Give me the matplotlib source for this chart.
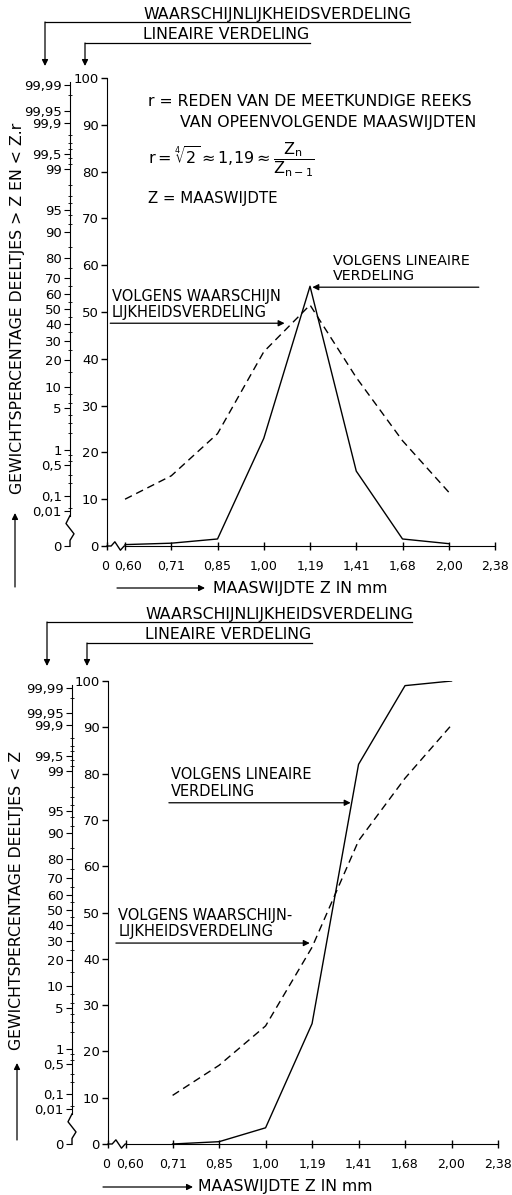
import matplotlib
matplotlib.use("Agg")
import matplotlib.pyplot as plt
import matplotlib.transforms as mtransforms
from matplotlib.lines import Line2D
from statistics import NormalDist

plt.rcParams['font.family'] = ['DejaVu Sans']
plt.rcParams['mathtext.fontset'] = 'dejavusans'
plt.rcParams['mathtext.default'] = 'regular'

W, H = 512, 1195

# x-as: maaswijdte Z in mm (meetkundige reeks, gelijke afstanden)
x_labels = ["0", "0,60", "0,71", "0,85", "1,00", "1,19", "1,41", "1,68", "2,00", "2,38"]
x_pos = [-0.39, 0, 1, 2, 3, 4, 5, 6, 7, 8]

# bovenste grafiek: gewichtspercentage per fractie
z_boven = ["0,60", "0,71", "0,85", "1,00", "1,19", "1,41", "1,68", "2,00"]
lin_boven = [0.3, 0.6, 1.5, 23, 55.5, 16, 1.5, 0.5]
kans_boven = [10, 15, 24, 41.5, 51.5, 36, 22.5, 11.5]

# onderste grafiek: gewichtspercentage deeltjes < Z (cumulatief)
z_onder = ["0,71", "0,85", "1,00", "1,19", "1,41", "1,68", "2,00"]
lin_onder = [0, 0.5, 3.5, 26, 82, 99, 100]
kans_onder = [10.5, 17, 25.5, 42.5, 65.5, 79, 90.5]

# waarschijnlijkheidsschaal links
prob_labels = ["99,99", "99,95", "99,9", "99,5", "99", "95", "90", "80", "70", "60",
               "50", "40", "30", "20", "10", "5", "1", "0,5", "0,1", "0,01"]
prob_values = [99.99, 99.95, 99.9, 99.5, 99, 95, 90, 80, 70, 60,
               50, 40, 30, 20, 10, 5, 1, 0.5, 0.1, 0.01]
prob_minor = [99.98, 99.8, 99.7, 99.6, 99.4, 99.2, 98, 97, 96, 94, 92,
              85, 75, 65, 55, 45, 35, 25, 15, 8, 6, 4, 3, 2, 0.8, 0.6, 0.3, 0.2, 0.05]

lin_ticks = list(range(0, 101, 10))

nd = NormalDist()


def prob_to_lin(p):
    # normale waarschijnlijkheidsschaal op 0-100, uitersten ingedrukt
    return min(max(50.6 + 12.9 * nd.inv_cdf(p / 100), 7.5), 99.0)


def xpos(lab):
    return x_pos[x_labels.index(lab)]


def fp(x, y):
    return (x / W, 1 - y / H)


def pijl(x0, y0, x1, y1):
    fig.add_artist(matplotlib.patches.FancyArrowPatch(
        fp(x0, y0), fp(x1, y1), transform=fig.transFigure,
        arrowstyle='-|>', mutation_scale=9, lw=0.9, color='black',
        shrinkA=0, shrinkB=0))


def lijn(xs, ys):
    fig.add_artist(Line2D([x / W for x in xs], [1 - y / H for y in ys],
                          transform=fig.transFigure, color='black', lw=0.9))


pijlstijl = dict(arrowstyle='-|>', lw=0.9, color='black', mutation_scale=9,
                 shrinkA=0, shrinkB=0)

fig = plt.figure(figsize=(W / 100, H / 100), dpi=100)


def teken_paneel(y_top, y_bot, x_left, x_right, x_sec, z, lin, kans):
    ax = fig.add_axes([x_left / W, 1 - y_bot / H, (x_right - x_left) / W, (y_bot - y_top) / H])
    xs = [xpos(v) for v in z]
    ax.plot(xs, lin, color='black', lw=1.0)
    ax.plot(xs, kans, color='black', lw=1.0, linestyle=(0, (5.5, 3.5)))
    ax.set_xlim(x_pos[0], x_pos[-1])
    ax.set_ylim(0, 100)
    ax.patch.set_visible(False)
    for s in ('top', 'right'):
        ax.spines[s].set_visible(False)
    ax.spines['bottom'].set_bounds(0, x_pos[-1])
    ax.set_xticks(x_pos)
    ax.set_xticklabels(x_labels)
    ax.set_yticks(lin_ticks)
    ax.tick_params(axis='y', direction='out', length=4, width=1, labelsize=9.5, pad=2)
    ax.tick_params(axis='x', direction='inout', length=6, width=1, labelsize=9, pad=7)
    # "0" en "0,60" iets uit elkaar zoals in het origineel
    tl = ax.get_xticklabels()
    tl[0].set_transform(tl[0].get_transform() + mtransforms.ScaledTranslation(-1.5 / 72, 0, fig.dpi_scale_trans))
    tl[1].set_transform(tl[1].get_transform() + mtransforms.ScaledTranslation(2.5 / 72, 0, fig.dpi_scale_trans))
    # onderbreking van de x-as tussen 0 en 0,60
    ax.plot([x_pos[0], -0.3, -0.22, -0.1, -0.02, 0], [0, 0, 0.9, -0.9, 0, 0],
            color='black', lw=1, clip_on=False)

    # waarschijnlijkheidsschaal
    ax2 = fig.add_axes([x_sec / W, 1 - y_bot / H, 20 / W, (y_bot - y_top) / H])
    ax2.set_xlim(0, 1)
    ax2.set_ylim(0, 100)
    ax2.patch.set_visible(False)
    for s in ('top', 'right', 'bottom'):
        ax2.spines[s].set_visible(False)
    ax2.spines['left'].set_bounds(6.5, 99.2)
    ax2.set_xticks([])
    ax2.set_yticks([prob_to_lin(p) for p in prob_values] + [0])
    ax2.set_yticklabels(prob_labels + ["0"])
    ax2.set_yticks([prob_to_lin(p) for p in prob_minor], minor=True)
    ax2.tick_params(axis='y', which='major', direction='out', length=4, labelsize=9.5, pad=2)
    ax2.tick_params(axis='y', which='minor', direction='inout', length=3)
    ax2.plot([0, -0.2, 0.2, 0, 0], [6.5, 4.8, 2.6, 1.2, 0], color='black', lw=1, clip_on=False)
    return ax


def kop(dy, dx):
    fig.text(*fp(143 + dx, 19 + dy), "WAARSCHĲNLĲKHEIDSVERDELING", fontsize=11.3, va='baseline')
    lijn([410 + dx, 45 + dx], [22 + dy, 22 + dy])
    pijl(45 + dx, 22 + dy, 45 + dx, 66 + dy)
    fig.text(*fp(143 + dx, 39 + dy), "LINEAIRE VERDELING", fontsize=11.3, va='baseline')
    lijn([310 + dx, 85 + dx], [43 + dy, 43 + dy])
    pijl(85 + dx, 43 + dy, 85 + dx, 66 + dy)


# ---- bovenste grafiek ----
ax_b = teken_paneel(78, 546, 107, 495, 70, z_boven, lin_boven, kans_boven)
kop(0, 0)

fig.text(*fp(148, 102), "r = REDEN VAN DE MEETKUNDIGE REEKS", fontsize=11.3, va='center')
fig.text(*fp(180, 122), "VAN OPEENVOLGENDE MAASWĲDTEN", fontsize=11.3, va='center')
fig.text(*fp(148, 160), r"$r = \sqrt[4]{2} \approx 1{,}19 \approx \dfrac{Z_{n}}{Z_{n-1}}$",
         fontsize=11.5, va='center')
fig.text(*fp(148, 199), "Z = MAASWĲDTE", fontsize=10.8, va='center')

ax_b.text(4.5, 56.2, "VOLGENS LINEAIRE\nVERDELING", fontsize=10.3, va='bottom', linespacing=1.1)
ax_b.annotate("", xy=(4.05, 55.3), xytext=(7.65, 55.3), arrowprops=pijlstijl)
ax_b.text(-0.28, 48.2, "VOLGENS WAARSCHĲN\nLĲKHEIDSVERDELING", fontsize=10.5, va='bottom', linespacing=1.1)
ax_b.annotate("", xy=(3.45, 47.6), xytext=(-0.32, 47.6), arrowprops=pijlstijl)

fig.text(*fp(18, 308), "GEWICHTSPERCENTAGE DEELTJES > Z EN < Z.r", rotation=90,
         fontsize=11.3, ha='center', va='center')
pijl(15, 587, 15, 513)
pijl(117, 588, 205, 588)
fig.text(*fp(213, 588), "MAASWĲDTE Z IN mm", fontsize=11.3, va='center')

# ---- onderste grafiek ----
ax_o = teken_paneel(681, 1144, 108, 498, 72, z_onder, lin_onder, kans_onder)
kop(600, 2)

ax_o.text(0.97, 74.6, "VOLGENS LINEAIRE\nVERDELING", fontsize=10.5, va='bottom', linespacing=1.1)
ax_o.annotate("", xy=(4.83, 73.7), xytext=(0.92, 73.7), arrowprops=pijlstijl)
ax_o.text(-0.17, 44.2, "VOLGENS WAARSCHĲN-\nLĲKHEIDSVERDELING", fontsize=10.5, va='bottom', linespacing=1.1)
ax_o.annotate("", xy=(3.95, 43.4), xytext=(-0.22, 43.4), arrowprops=pijlstijl)

fig.text(*fp(17, 900), "GEWICHTSPERCENTAGE DEELTJES < Z", rotation=90,
         fontsize=11.3, ha='center', va='center')
pijl(17, 1140, 17, 1063)
pijl(103, 1187, 193, 1187)
fig.text(*fp(198, 1187), "MAASWĲDTE Z IN mm", fontsize=11.3, va='center')

fig.savefig("out.png", dpi=100)
